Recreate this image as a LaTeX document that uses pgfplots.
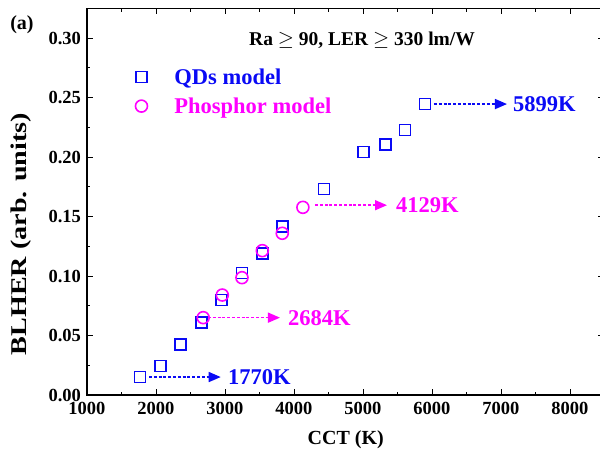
\documentclass[border=0pt]{standalone}
\usepackage{fontspec}
\setmainfont{Liberation Serif}
\usepackage{pgfplots}
\pgfplotsset{compat=1.18}
\usetikzlibrary{arrows.meta}
\definecolor{qblue}{RGB}{10,10,245}
\definecolor{pmag}{RGB}{255,0,255}
\pgfplotstableread{
x y
1770 0.0151
2062 0.0244
2358 0.0426
2657 0.0608
2952 0.0798
3246 0.1024
3541 0.1191
3830 0.1414
4435 0.1731
5010 0.2042
5323 0.2107
5609 0.2227
5899 0.2445
}\qds
\pgfplotstableread{
x y
2684 0.0650
2961 0.0840
3246 0.0986
3541 0.1213
3830 0.1359
4129 0.1577
}\phos
\begin{document}
\begin{tikzpicture}[x=1pt,y=1pt]
\useasboundingbox (0,0) rectangle (600,459);
\begin{axis}[
  at={(87pt,64pt)}, anchor=south west,
  scale only axis, width=517.5pt, height=386.75pt,
  xmin=1000, xmax=8500, ymin=0, ymax=0.325,
  xtick={1000,2000,...,8000}, minor x tick num=1,
  ytick={0,0.05,0.10,0.15,0.20,0.25,0.30}, minor y tick num=1,
  tick align=inside, major tick length=6pt, minor tick length=3.5pt,
  tick style={black, line width=0.9pt},
  axis line style={line width=1.3pt},
  /pgf/number format/assume math mode=true,
  /pgf/number format/1000 sep={},
  scaled y ticks=false,
  yticklabel style={/pgf/number format/fixed, /pgf/number format/fixed zerofill, /pgf/number format/precision=2, xshift=-2.5pt},
  xticklabel style={yshift=-4pt},
  ticklabel style={font=\fontsize{18.5}{18.5}\selectfont\bfseries},
  xlabel={CCT (K)}, ylabel={BLHER (arb. units)},
  label style={font=\fontsize{20}{20}\selectfont\bfseries},
  xlabel style={at={(axis description cs:0.5,-0.116)}, anchor=center},
  ylabel style={at={(axis description cs:-0.1275,0.416)}, anchor=center, font=\fontsize{22.5}{22.5}\selectfont\bfseries, xscale=1.25},
  legend style={at={(axis cs:1656,0.255)}, anchor=west, draw=none, fill=none,
    font=\fontsize{22.5}{22.5}\selectfont\bfseries, row sep=8pt,
    /tikz/every odd column/.append style={column sep=25pt}},
  legend cell align=left,
]
\addplot[only marks, mark=square, mark size=5.5pt, qblue, line width=1.6pt] table {\qds};
\addlegendentry{\textcolor{qblue}{QDs model}}
\addplot[only marks, mark=o, mark size=6pt, pmag, line width=1.6pt] table {\phos};
\addlegendentry{\textcolor{pmag}{Phosphor model}}

\draw[qblue, line width=1.5pt, dash pattern=on 3pt off 1.8pt, -{Triangle[length=12pt,width=10pt]}] (axis cs:1899,0.0151) -- (axis cs:2938,0.0151);
\node[qblue, anchor=west, inner sep=0pt, font=\fontsize{22.5}{22.5}\selectfont\bfseries] at (axis cs:3043,0.0151) {1770K};
\draw[pmag, line width=1.5pt, dash pattern=on 3pt off 1.8pt, -{Triangle[length=12pt,width=10pt]}] (axis cs:2754,0.065) -- (axis cs:3797,0.065);
\node[pmag, anchor=west, inner sep=0pt, font=\fontsize{22.5}{22.5}\selectfont\bfseries] at (axis cs:3913,0.065) {2684K};
\draw[pmag, line width=1.5pt, dash pattern=on 3pt off 1.8pt, -{Triangle[length=12pt,width=10pt]}] (axis cs:4304,0.1595) -- (axis cs:5348,0.1595);
\node[pmag, anchor=west, inner sep=0pt, font=\fontsize{22.5}{22.5}\selectfont\bfseries] at (axis cs:5478,0.1595) {4129K};
\draw[qblue, line width=1.5pt, dash pattern=on 3pt off 1.8pt, -{Triangle[length=12pt,width=10pt]}] (axis cs:6029,0.2445) -- (axis cs:7087,0.2445);
\node[qblue, anchor=west, inner sep=0pt, font=\fontsize{22.5}{22.5}\selectfont\bfseries] at (axis cs:7174,0.2445) {5899K};
\node[font=\fontsize{19.5}{19.5}\selectfont\bfseries] at (axis cs:4986,0.298) {Ra $\geq$ 90, LER $\geq$ 330 lm/W};
\end{axis}
\node[font=\fontsize{20}{20}\selectfont\bfseries] at (22,434) {(a)};
\end{tikzpicture}
\end{document}
